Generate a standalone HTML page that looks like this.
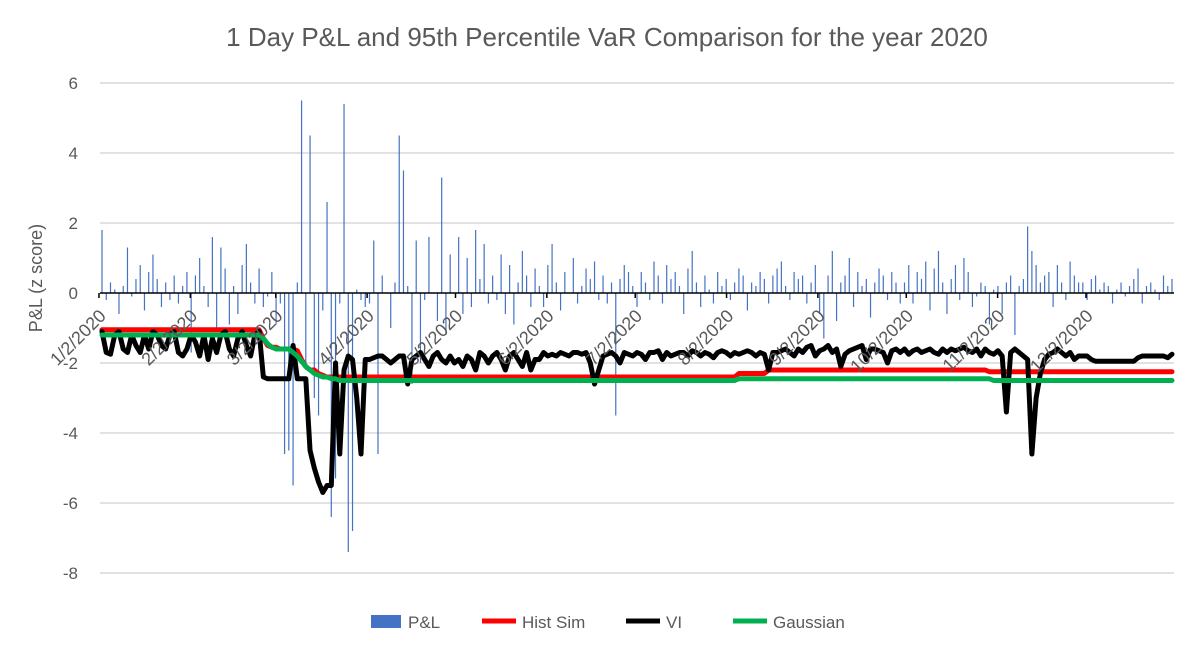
<!DOCTYPE html>
<html><head><meta charset="utf-8"><style>
body{margin:0;background:#fff;font-family:"Liberation Sans",Calibri,sans-serif}
svg text{font-family:"Liberation Sans",sans-serif;fill:#595959}
</style></head><body>
<svg id="chart" width="1203" height="651" viewBox="0 0 1203 651" xmlns="http://www.w3.org/2000/svg">
<text x="607" y="46" text-anchor="middle" font-size="26">1 Day P&amp;L and 95th Percentile VaR Comparison for the year 2020</text>
<text transform="translate(42,278) rotate(-90)" text-anchor="middle" font-size="18">P&amp;L (z score)</text>
<g id="grid"></g><g id="bars"></g><g id="axis"></g><g id="lines"></g><g id="xlabels"></g>
<g>
<rect x="371" y="615" width="30" height="13" fill="#4472C4"/>
<text x="408" y="628" font-size="17">P&amp;L</text>
<line x1="482" y1="621" x2="516" y2="621" stroke="#FF0000" stroke-width="5"/>
<text x="522" y="628" font-size="17">Hist Sim</text>
<line x1="626" y1="621" x2="660" y2="621" stroke="#000" stroke-width="5"/>
<text x="666" y="628" font-size="17">VI</text>
<line x1="733" y1="621" x2="767" y2="621" stroke="#00B050" stroke-width="5"/>
<text x="773" y="628" font-size="17">Gaussian</text>
</g>
</svg>
<script>
const yTicks=[6,4,2,0,-2,-4,-6,-8];
const xTickLabels=["1/2/2020","2/2/2020","3/2/2020","4/2/2020","5/2/2020","6/2/2020","7/2/2020","8/2/2020","9/2/2020","10/2/2020","11/2/2020","12/2/2020"];
const xTickDays=[0,31,60,91,121,152,182,213,244,274,305,335];
const pnl=[1.8,-0.2,0.3,0.1,-0.6,0.2,1.3,-0.1,0.4,0.8,-0.5,0.6,1.1,0.4,-0.4,0.3,-0.2,0.5,-0.3,0.2,0.6,
-1.7,0.5,1.0,0.2,-0.4,1.6,-1.0,1.3,0.7,-0.9,0.2,-0.6,0.8,1.4,0.3,-0.3,0.7,-0.4,-0.1,
0.6,-0.9,-0.3,-4.6,-4.5,-5.5,0.3,5.5,-2.2,4.5,-3.0,-3.5,-0.5,2.6,-6.4,-5.3,-0.3,5.4,-7.4,-6.8,0.1,-0.2,
-0.4,-0.3,1.5,-4.6,0.5,0.0,-1.0,0.3,4.5,3.5,0.2,-2.6,1.5,-2.0,-0.2,1.6,0.0,-0.8,3.3,-1.2,1.1,
0.0,1.6,-0.6,1.0,-0.4,1.8,0.4,1.4,-0.3,0.5,-0.2,1.1,-0.6,0.8,-0.9,0.3,1.2,0.5,-0.4,0.7,
0.2,-0.4,0.8,1.4,0.3,-0.5,0.6,0.0,1.0,-0.3,0.2,0.7,0.4,0.9,-0.2,0.5,-0.3,0.3,-3.5,0.4,0.8,0.6,
0.2,-0.4,0.6,0.3,-0.2,0.9,0.5,-0.3,0.8,0.4,0.6,0.2,-0.6,0.7,1.2,0.3,-0.4,0.5,0.1,-0.3,0.6,0.2,
0.4,-0.2,0.3,0.7,0.5,-0.5,0.3,0.2,0.6,0.4,-0.3,0.5,0.7,0.9,0.2,-0.2,0.6,0.4,0.5,-0.3,0.3,
0.8,-0.6,-1.3,0.5,1.2,-0.8,0.3,0.5,1.0,-0.4,0.6,0.2,0.4,-0.7,0.3,0.7,0.5,-0.2,0.6,0.3,-0.3,
0.3,0.8,-0.3,0.6,0.4,0.9,-0.5,0.7,1.2,0.3,-0.6,0.4,0.8,-0.2,1.0,0.6,-0.4,-0.1,0.3,0.2,-0.9,0.1,
0.2,-0.6,0.3,0.5,-1.2,0.2,0.4,1.9,1.2,0.8,0.3,0.5,0.6,-0.4,0.8,0.3,-0.2,0.9,0.5,0.3,
0.3,-0.2,0.4,0.5,0.1,0.3,0.2,-0.3,0.1,0.3,-0.1,0.2,0.4,0.7,-0.3,0.2,0.3,0.1,-0.2,0.5,0.2,0.4];
const vi=[-1.1,-1.7,-1.75,-1.2,-1.1,-1.6,-1.7,-1.2,-1.5,-1.7,-1.2,-1.6,-1.1,-1.2,-1.5,-1.6,-1.2,-1.1,-1.7,-1.8,-1.6,
-1.2,-1.4,-1.8,-1.2,-1.9,-1.3,-1.7,-1.2,-1.1,-1.6,-1.8,-1.3,-1.1,-1.5,-1.8,-1.2,-1.1,-2.4,-2.45,
-2.45,-2.45,-2.45,-2.45,-2.45,-1.5,-2.45,-2.45,-2.45,-4.5,-5.0,-5.4,-5.7,-5.5,-5.5,-2.0,-4.6,-2.2,-1.8,-1.9,-3.0,-4.6,
-1.9,-1.9,-1.85,-1.8,-1.8,-1.9,-2.0,-1.9,-1.8,-1.8,-2.6,-1.9,-1.8,-1.7,-1.9,-2.1,-1.8,-1.7,-1.9,-2.0,-1.8,
-2.0,-1.9,-2.1,-1.8,-1.9,-2.2,-1.7,-1.8,-2.0,-1.8,-1.7,-1.9,-2.2,-1.8,-1.7,-1.9,-2.1,-1.7,-2.2,-1.9,
-1.9,-1.7,-1.8,-1.75,-1.8,-1.7,-1.75,-1.8,-1.7,-1.7,-1.75,-1.7,-2.0,-2.6,-2.2,-1.8,-1.75,-1.7,-1.8,-2.0,-1.7,-1.75,
-1.8,-1.7,-1.75,-1.9,-1.7,-1.7,-1.65,-1.9,-1.7,-1.8,-1.75,-1.7,-1.7,-1.8,-1.65,-1.7,-1.8,-1.7,-1.75,-1.85,-1.7,-1.65,
-1.7,-1.8,-1.7,-1.75,-1.7,-1.65,-1.7,-1.8,-1.7,-1.75,-2.2,-1.7,-1.7,-1.65,-1.6,-1.7,-1.8,-1.6,-1.7,-1.55,-1.5,
-1.8,-1.65,-1.6,-1.5,-1.7,-1.6,-2.1,-1.75,-1.65,-1.6,-1.55,-1.5,-1.9,-1.6,-1.6,-1.65,-1.7,-2.0,-1.65,-1.6,-1.7,
-1.6,-1.75,-1.65,-1.6,-1.7,-1.65,-1.6,-1.7,-1.75,-1.6,-1.7,-1.6,-1.65,-1.6,-1.55,-1.65,-1.7,-1.6,-1.8,-1.6,-1.7,-1.75,
-1.65,-1.8,-3.4,-1.7,-1.6,-1.7,-1.8,-1.9,-4.6,-3.0,-2.3,-1.9,-1.75,-1.7,-1.6,-1.7,-1.8,-1.7,-1.9,-1.8,
-1.8,-1.8,-1.9,-1.95,-1.95,-1.95,-1.95,-1.95,-1.95,-1.95,-1.95,-1.95,-1.95,-1.85,-1.8,-1.8,-1.8,-1.8,-1.8,-1.8,-1.85,-1.75];
const histSim=[-1.05,-1.05,-1.05,-1.05,-1.05,-1.05,-1.05,-1.05,-1.05,-1.05,
-1.05,-1.05,-1.05,-1.05,-1.05,-1.05,-1.05,-1.05,-1.05,-1.05,
-1.05,-1.05,-1.05,-1.05,-1.05,-1.05,-1.05,-1.05,-1.05,-1.05,
-1.05,-1.05,-1.05,-1.05,-1.05,-1.05,-1.05,-1.05,
-1.3,-1.5,-1.55,-1.55,-1.6,-1.6,-1.6,-1.6,-1.65,
-1.9,-2.1,-2.2,-2.2,-2.3,-2.35,
-2.4,-2.4,-2.4,-2.4,-2.4,-2.4,-2.4,-2.4,-2.4,-2.4,
-2.4,-2.4,-2.4,-2.4,-2.4,-2.4,-2.4,-2.4,-2.4,-2.4,
-2.4,-2.4,-2.4,-2.4,-2.4,-2.4,-2.4,-2.4,-2.4,-2.4,
-2.4,-2.4,-2.4,-2.4,-2.4,-2.4,-2.4,-2.4,-2.4,-2.4,
-2.4,-2.4,-2.4,-2.4,-2.4,-2.4,-2.4,-2.4,-2.4,-2.4,
-2.4,-2.4,-2.4,-2.4,-2.4,-2.4,-2.4,-2.4,-2.4,-2.4,
-2.4,-2.4,-2.4,-2.4,-2.4,-2.4,-2.4,-2.4,-2.4,-2.4,
-2.4,-2.4,-2.4,-2.4,-2.4,-2.4,-2.4,-2.4,-2.4,-2.4,
-2.4,-2.4,-2.4,-2.4,-2.4,-2.4,-2.4,-2.4,-2.4,-2.4,
-2.4,-2.4,-2.4,-2.4,-2.4,-2.4,-2.4,
-2.3,-2.3,-2.3,-2.3,-2.3,-2.3,-2.3,
-2.2,-2.2,-2.2,-2.2,-2.2,-2.2,-2.2,-2.2,-2.2,-2.2,
-2.2,-2.2,-2.2,-2.2,-2.2,-2.2,-2.2,-2.2,-2.2,-2.2,
-2.2,-2.2,-2.2,-2.2,-2.2,-2.2,-2.2,-2.2,-2.2,-2.2,
-2.2,-2.2,-2.2,-2.2,-2.2,-2.2,-2.2,-2.2,-2.2,-2.2,
-2.2,-2.2,-2.2,-2.2,-2.2,-2.2,-2.2,-2.2,-2.2,-2.2,
-2.2,-2.2,
-2.25,-2.25,-2.25,-2.25,-2.25,-2.25,-2.25,-2.25,-2.25,-2.25,
-2.25,-2.25,-2.25,-2.25,-2.25,-2.25,-2.25,-2.25,-2.25,-2.25,
-2.25,-2.25,-2.25,-2.25,-2.25,-2.25,-2.25,-2.25,-2.25,-2.25,
-2.25,-2.25,-2.25,-2.25,-2.25,-2.25,-2.25,-2.25,-2.25,-2.25,
-2.25,-2.25,-2.25,-2.25];
const gaussian=[-1.2,-1.2,-1.2,-1.2,-1.2,-1.2,-1.2,-1.2,-1.2,-1.2,
-1.2,-1.2,-1.2,-1.2,-1.2,-1.2,-1.2,-1.2,-1.2,-1.2,
-1.2,-1.2,-1.2,-1.2,-1.2,-1.2,-1.2,-1.2,-1.2,-1.2,
-1.2,-1.2,-1.2,-1.2,-1.2,-1.2,-1.2,-1.2,
-1.3,-1.45,-1.55,-1.6,-1.6,-1.6,-1.6,-1.7,-1.8,
-1.95,-2.1,-2.2,-2.3,-2.35,-2.4,-2.4,-2.45,-2.45,
-2.5,-2.5,-2.5,-2.5,-2.5,-2.5,-2.5,-2.5,-2.5,-2.5,
-2.5,-2.5,-2.5,-2.5,-2.5,-2.5,-2.5,-2.5,-2.5,-2.5,
-2.5,-2.5,-2.5,-2.5,-2.5,-2.5,-2.5,-2.5,-2.5,-2.5,
-2.5,-2.5,-2.5,-2.5,-2.5,-2.5,-2.5,-2.5,-2.5,-2.5,
-2.5,-2.5,-2.5,-2.5,-2.5,-2.5,-2.5,-2.5,-2.5,-2.5,
-2.5,-2.5,-2.5,-2.5,-2.5,-2.5,-2.5,-2.5,-2.5,-2.5,
-2.5,-2.5,-2.5,-2.5,-2.5,-2.5,-2.5,-2.5,-2.5,-2.5,
-2.5,-2.5,-2.5,-2.5,-2.5,-2.5,-2.5,-2.5,-2.5,-2.5,
-2.5,-2.5,-2.5,-2.5,-2.5,-2.5,-2.5,-2.5,-2.5,-2.5,
-2.5,-2.5,-2.5,-2.5,
-2.45,-2.45,-2.45,-2.45,-2.45,-2.45,-2.45,-2.45,-2.45,-2.45,
-2.45,-2.45,-2.45,-2.45,-2.45,-2.45,-2.45,-2.45,-2.45,-2.45,
-2.45,-2.45,-2.45,-2.45,-2.45,-2.45,-2.45,-2.45,-2.45,-2.45,
-2.45,-2.45,-2.45,-2.45,-2.45,-2.45,-2.45,-2.45,-2.45,-2.45,
-2.45,-2.45,-2.45,-2.45,-2.45,-2.45,-2.45,-2.45,-2.45,-2.45,
-2.45,-2.45,-2.45,-2.45,-2.45,-2.45,-2.45,-2.45,-2.45,-2.45,
-2.5,-2.5,-2.5,-2.5,-2.5,-2.5,-2.5,-2.5,-2.5,-2.5,
-2.5,-2.5,-2.5,-2.5,-2.5,-2.5,-2.5,-2.5,-2.5,-2.5,
-2.5,-2.5,-2.5,-2.5,-2.5,-2.5,-2.5,-2.5,-2.5,-2.5,
-2.5,-2.5,-2.5,-2.5,-2.5,-2.5,-2.5,-2.5,-2.5,-2.5,
-2.5,-2.5,-2.5];

const NS="http://www.w3.org/2000/svg";
const X0=100,X1=1174,Y0=293,PX=35;
const y=v=>Y0-v*PX;
const x=i=>X0+2+i*(X1-X0-4)/(pnl.length-1);
const xd=d=>X0-1+d*(1086-99)/335;
function mk(tag,attrs,parent){const e=document.createElementNS(NS,tag);for(const k in attrs)e.setAttribute(k,attrs[k]);document.getElementById(parent).appendChild(e);return e;}

yTicks.forEach(t=>{
  if(t!==0){const g=mk('line',{x1:X0,x2:X1,y1:y(t),y2:y(t),stroke:'#D9D9D9','stroke-width':1.5},'grid');
  
  }
  const l=mk('text',{x:78,y:y(t)+6,'text-anchor':'end','font-size':17},'grid');
  l.textContent=t;
  
  
});
pnl.forEach((v,i)=>{
  const b=mk('line',{x1:x(i),x2:x(i),y1:y(0),y2:y(v),stroke:'#4472C4','stroke-width':1.2},'bars');
  
  
});
const ax=mk('line',{x1:X0,x2:X1,y1:Y0,y2:Y0,stroke:'#000','stroke-width':1.5},'axis');


xTickDays.forEach((d,k)=>{
  const tk=mk('line',{x1:xd(d),x2:xd(d),y1:Y0,y2:Y0+5,stroke:'#000','stroke-width':1.5},'axis');
  
  
  const ax2=xd(d)+8, ay=Y0+24;
  const t=mk('text',{x:ax2,y:ay,'text-anchor':'end','font-size':18,transform:`rotate(-45 ${ax2} ${ay})`,fill:'#7f7f7f'},'xlabels');
  t.textContent=xTickLabels[k];
  
  
});
function series(arr,color,name){
  const p=mk('polyline',{points:arr.map((v,i)=>x(i)+','+y(v)).join(' '),fill:'none',stroke:color,'stroke-width':5,'stroke-linejoin':'round','stroke-linecap':'round'},'lines');
  
  
}
series(histSim,'#FF0000','histsim-line');
series(vi,'#000000','vi-line');
series(gaussian,'#00B050','gaussian-line');
</script>
</body></html>
